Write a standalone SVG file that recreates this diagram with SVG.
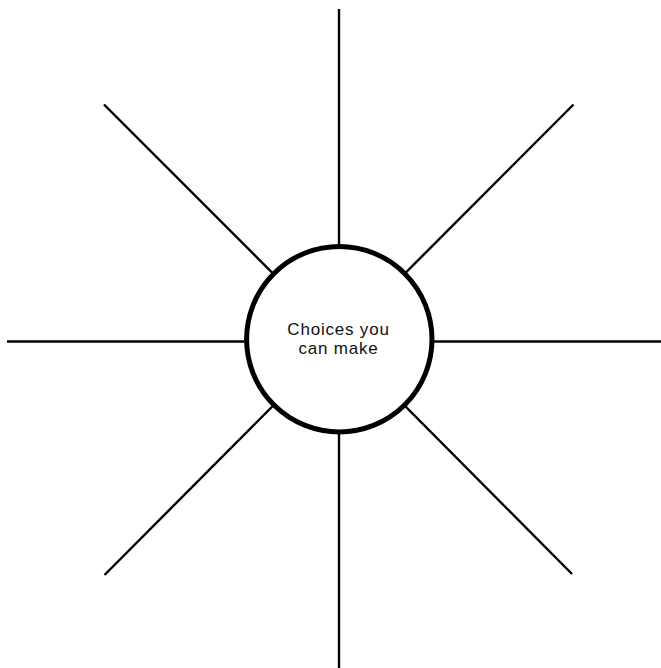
<svg xmlns="http://www.w3.org/2000/svg" width="661" height="668" viewBox="0 0 661 668">
  <style>
    .spoke { stroke: #000; stroke-width: 2.4; fill: none; stroke-linecap: butt; }
    .hub { fill: #fff; stroke: #000; stroke-width: 5; }
    .label { font-family: "Liberation Sans", Arial, sans-serif; font-size: 17px; letter-spacing: 0.8px; fill: #111; text-anchor: middle; }
  </style>
  <rect width="661" height="668" fill="#fff"/>
  <g id="connectors">
    <line class="spoke" x1="339" y1="9" x2="339" y2="339"/>
    <line class="spoke" x1="339" y1="339" x2="339" y2="668"/>
    <line class="spoke" x1="7" y1="341.5" x2="339" y2="341.5"/>
    <line class="spoke" x1="339" y1="341.5" x2="661" y2="341.5"/>
    <line class="spoke" x1="104" y1="104.5" x2="339" y2="339.5"/>
    <line class="spoke" x1="573.5" y1="104.5" x2="339" y2="339.5"/>
    <line class="spoke" x1="104.5" y1="575" x2="339" y2="339.5"/>
    <line class="spoke" x1="572" y1="574" x2="339" y2="339.5"/>
  </g>
  <g id="node-center">
    <circle class="hub" cx="339.3" cy="339.2" r="92.7"/>
    <text class="label" x="338.5" y="334.5">Choices you</text>
    <text class="label" x="338.5" y="353.5">can make</text>
  </g>
</svg>
